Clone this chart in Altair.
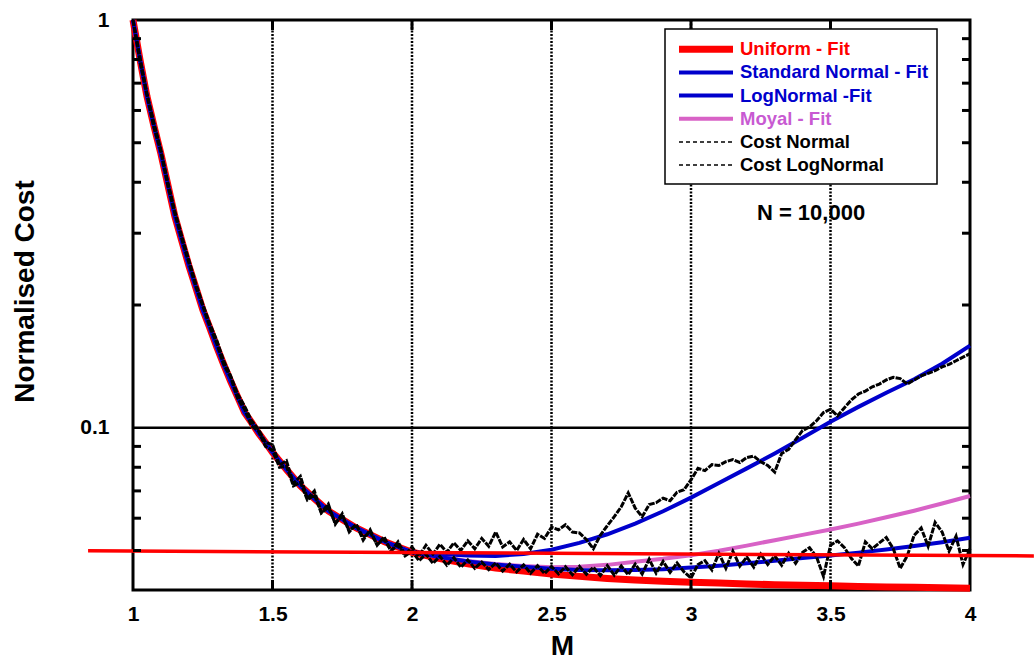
import altair as alt
import pandas as pd

# ---------------- data ----------------
# fitted curves: common decay for M <= 2, then separate tails
fit_m_head = [1.0, 1.025, 1.05, 1.075, 1.1, 1.125, 1.15, 1.175, 1.2, 1.225, 1.25, 1.275,
              1.3, 1.325, 1.35, 1.375, 1.4, 1.425, 1.45, 1.475, 1.5, 1.55, 1.6, 1.65,
              1.7, 1.75, 1.8, 1.85, 1.9, 1.95, 2.0]
fit_c_head = [1.0, 0.80, 0.65, 0.55, 0.47, 0.394, 0.33, 0.287, 0.25, 0.221, 0.195, 0.176,
              0.158, 0.143, 0.13, 0.119, 0.109, 0.103, 0.097, 0.092, 0.087, 0.079, 0.072, 0.067,
              0.0625, 0.0596, 0.0568, 0.0547, 0.0526, 0.051, 0.0495]
fit_m_tail = [2.1, 2.2, 2.3, 2.4, 2.5, 2.6, 2.7, 2.8, 2.9, 3.0,
              3.1, 3.2, 3.3, 3.4, 3.5, 3.6, 3.7, 3.8, 3.9, 4.0]
uniform_tail = [0.0478, 0.0464, 0.0453, 0.0445, 0.0438, 0.0432, 0.0427, 0.0423, 0.042, 0.0418,
                0.0416, 0.0414, 0.0412, 0.0411, 0.041, 0.0408, 0.0407, 0.0406, 0.0405, 0.0404]
std_normal_tail = [0.049, 0.0486, 0.0485, 0.049, 0.0502, 0.0522, 0.0548, 0.0582, 0.0624, 0.0674,
                   0.0732, 0.0795, 0.0865, 0.0945, 0.1035, 0.1125, 0.1218, 0.1315, 0.1435, 0.159]
lognormal_tail = [0.0482, 0.047, 0.0462, 0.0456, 0.0451, 0.0448, 0.0447, 0.0448, 0.045, 0.0454,
                  0.0459, 0.0465, 0.0472, 0.0479, 0.0486, 0.0494, 0.0503, 0.0513, 0.0524, 0.0537]
moyal_tail = [0.0482, 0.0471, 0.0463, 0.0458, 0.0455, 0.0456, 0.0461, 0.0469, 0.0477, 0.0487,
              0.0499, 0.0514, 0.053, 0.0546, 0.0563, 0.0582, 0.0603, 0.0626, 0.0652, 0.068]

# simulated costs, sampled every 0.025 in M
cost_m = [round(1 + 0.025 * i, 3) for i in range(121)]
cost_normal = [
    1.0, 0.81, 0.66, 0.56, 0.48, 0.40, 0.34, 0.295, 0.258, 0.226,
    0.201, 0.18, 0.164, 0.146, 0.134, 0.121, 0.113, 0.104, 0.099, 0.092,
    0.091, 0.081, 0.083, 0.073, 0.076, 0.067, 0.070, 0.062, 0.065, 0.058,
    0.0615, 0.0555, 0.058, 0.053, 0.0562, 0.0515, 0.054, 0.0498, 0.0525, 0.0488,
    0.051, 0.0485, 0.0515, 0.049, 0.0518, 0.0495, 0.0522, 0.05, 0.0528, 0.0505,
    0.0535, 0.0512, 0.0555, 0.051, 0.0525, 0.05, 0.0532, 0.0505, 0.0548, 0.0535,
    0.057, 0.0562, 0.0578, 0.0555, 0.0552, 0.0532, 0.0505, 0.0545, 0.0575, 0.0605,
    0.064, 0.0692, 0.0635, 0.0605, 0.0648, 0.0655, 0.0672, 0.0662, 0.0695, 0.0705,
    0.0745, 0.0795, 0.0785, 0.0812, 0.0808, 0.0826, 0.0835, 0.0822, 0.0845, 0.0852,
    0.0825, 0.0808, 0.0778, 0.0865, 0.0885, 0.0935, 0.0985, 0.1005, 0.104, 0.109,
    0.111, 0.107, 0.112, 0.117, 0.121, 0.123, 0.126, 0.128, 0.131, 0.133,
    0.132, 0.128, 0.131, 0.134, 0.136, 0.138, 0.141, 0.143, 0.146, 0.149,
    0.152]
cost_lognormal = [
    1.0, 0.79, 0.655, 0.545, 0.475, 0.392, 0.335, 0.29, 0.254, 0.222,
    0.199, 0.177, 0.161, 0.143, 0.133, 0.118, 0.111, 0.101, 0.098, 0.09,
    0.088, 0.08, 0.0805, 0.072, 0.0735, 0.0665, 0.0685, 0.0618, 0.0638, 0.0585,
    0.0605, 0.056, 0.0578, 0.0538, 0.0555, 0.0518, 0.0532, 0.05, 0.0515, 0.0485,
    0.0498, 0.0472, 0.049, 0.0465, 0.0484, 0.046, 0.048, 0.0455, 0.0474, 0.0452,
    0.0468, 0.0449, 0.0466, 0.0445, 0.0463, 0.0443, 0.0461, 0.044, 0.0459, 0.0439,
    0.0457, 0.0438, 0.0456, 0.0436, 0.0457, 0.0437, 0.0455, 0.0434, 0.0459, 0.0435,
    0.0458, 0.0436, 0.0463, 0.0438, 0.0476, 0.044, 0.047, 0.0442, 0.0466, 0.0443,
    0.0428, 0.0462, 0.0472, 0.0448, 0.0492, 0.0452, 0.0498, 0.0458, 0.0482, 0.0455,
    0.049, 0.0462, 0.0485, 0.046, 0.0492, 0.0465, 0.0495, 0.0508, 0.0482, 0.0432,
    0.0515, 0.0528, 0.0508, 0.0478, 0.0458, 0.0525, 0.0505, 0.0522, 0.0538, 0.0505,
    0.0452, 0.0485, 0.0545, 0.0568, 0.0512, 0.0586, 0.0555, 0.0498, 0.0542, 0.0462,
    0.0505]

# straight red reference line (runs past both plot edges)
ref_m = [0.839, 4.229]
ref_c = [0.0499, 0.0485]

x_ticks = [1, 1.5, 2, 2.5, 3, 3.5, 4]
x_grid = [1.5, 2, 2.5, 3, 3.5]
y_major = [0.1, 1]
y_minor = [0.05, 0.06, 0.07, 0.08, 0.09, 0.2, 0.3, 0.4, 0.5, 0.6, 0.7, 0.8, 0.9]

legend_labels = ["Uniform - Fit", "Standard Normal - Fit", "LogNormal -Fit",
                 "Moyal - Fit", "Cost Normal", "Cost LogNormal"]

# ---------------- styling ----------------
FONT = "Liberation Sans"
W, H = 837, 570
RED = "#ff0000"
BLUE = "#0000cc"
PINK = "#d862c6"
PINK_TXT = "#c85ad2"

def frame(m, c):
    return pd.DataFrame({"M": m, "C": c})

xs = alt.Scale(domain=[1, 4], nice=False, zero=False)
ys = alt.Scale(type="log", domain=[0.04, 1], nice=False)
x_axis = alt.Axis(values=x_ticks, format="~g", title="M", grid=False, domain=False,
                  ticks=False, tickSize=0, labelFontSize=21, labelFontWeight="bold",
                  labelPadding=13, labelColor="black", labelFlush=False, labelOverlap=False,
                  titleFontSize=28, titleFontWeight="bold", titleColor="black",
                  titleX=429, titleY=64, titleBaseline="alphabetic", titleAlign="center")
y_axis = alt.Axis(values=y_major, format="~g", title="Normalised Cost", grid=False, domain=False,
                  ticks=False, tickSize=0, labelFontSize=21, labelFontWeight="bold",
                  labelPadding=24, labelColor="black", labelFlush=False, labelOverlap=False,
                  titleFontSize=28, titleFontWeight="bold", titleColor="black",
                  titleX=-100, titleY=271, titleAngle=270, titleBaseline="alphabetic",
                  titleAlign="center")
X = alt.X("M:Q", scale=xs, axis=x_axis)
Y = alt.Y("C:Q", scale=ys, axis=y_axis)

layers = []

# grid
layers.append(alt.Chart(pd.DataFrame({"M": x_grid})).mark_rule(
    color="black", strokeWidth=2.5, strokeDash=[2, 1.5]).encode(x=X))
layers.append(alt.Chart(pd.DataFrame({"C": [0.1]})).mark_rule(
    color="black", strokeWidth=2.5).encode(y=Y))

# fitted curves
fit_m = fit_m_head + fit_m_tail
layers.append(alt.Chart(frame(fit_m, fit_c_head + uniform_tail)).mark_line(
    color=RED, strokeWidth=7).encode(x=X, y=Y))
layers.append(alt.Chart(frame(fit_m, fit_c_head + moyal_tail)).mark_line(
    color=PINK, strokeWidth=4).encode(x=X, y=Y))
layers.append(alt.Chart(frame(fit_m, fit_c_head + lognormal_tail)).mark_line(
    color=BLUE, strokeWidth=4).encode(x=X, y=Y))
layers.append(alt.Chart(frame(fit_m, fit_c_head + std_normal_tail)).mark_line(
    color=BLUE, strokeWidth=4).encode(x=X, y=Y))

# simulated costs
layers.append(alt.Chart(frame(cost_m, cost_normal)).mark_line(
    color="black", strokeWidth=3, strokeDash=[6, 1.2]).encode(x=X, y=Y))
layers.append(alt.Chart(frame(cost_m, cost_lognormal)).mark_line(
    color="black", strokeWidth=3, strokeDash=[6, 1.2]).encode(x=X, y=Y))

# red reference line
layers.append(alt.Chart(frame(ref_m, ref_c)).mark_line(
    color=RED, strokeWidth=3.5).encode(x=X, y=Y))

# inward ticks on all four sides
xt = pd.DataFrame({"M": x_grid})
layers.append(alt.Chart(xt).mark_rule(color="black", strokeWidth=3).encode(
    x=X, y=alt.value(H), y2=alt.value(H - 10)))
layers.append(alt.Chart(xt).mark_rule(color="black", strokeWidth=3).encode(
    x=X, y=alt.value(0), y2=alt.value(10)))
yt = pd.DataFrame({"C": y_minor})
layers.append(alt.Chart(yt).mark_rule(color="black", strokeWidth=3).encode(
    y=Y, x=alt.value(0), x2=alt.value(8)))
layers.append(alt.Chart(yt).mark_rule(color="black", strokeWidth=3).encode(
    y=Y, x=alt.value(W), x2=alt.value(W - 8)))

# annotation
one = alt.Data(values=[{}])
layers.append(alt.Chart(one).mark_text(
    text="N = 10,000", font=FONT, fontSize=22, fontWeight="bold", color="black",
    align="center", baseline="middle").encode(x=alt.value(678), y=alt.value(193)))

# legend (drawn by hand)
layers.append(alt.Chart(one).mark_rect(
    fill="white", stroke="black", strokeWidth=1.5).encode(
    x=alt.value(532), x2=alt.value(804), y=alt.value(9), y2=alt.value(164)))
leg_styles = [
    (RED, 7, None, RED),
    (BLUE, 4, None, BLUE),
    (BLUE, 4, None, BLUE),
    (PINK, 4, None, PINK_TXT),
    ("black", 1.5, [4, 3], "black"),
    ("black", 1.5, [4, 3], "black"),
]
for i, (lab, (col, sw, dash, tcol)) in enumerate(zip(legend_labels, leg_styles)):
    ypos = 29.3 + 23.15 * i
    kw = dict(color=col, strokeWidth=sw)
    if dash:
        kw["strokeDash"] = dash
    layers.append(alt.Chart(one).mark_rule(**kw).encode(
        x=alt.value(546), x2=alt.value(600), y=alt.value(ypos)))
    layers.append(alt.Chart(one).mark_text(
        text=lab, font=FONT, fontSize=18.5, fontWeight="bold", color=tcol,
        align="left", baseline="middle").encode(x=alt.value(607), y=alt.value(ypos)))

chart = alt.layer(*layers).properties(
    width=W, height=H,
    autosize=alt.AutoSizeParams(type="none"),
    padding={"left": 133, "top": 20, "right": 64, "bottom": 72},
).configure(font=FONT).configure_view(stroke="black", strokeWidth=3)

chart.save("out.html", embed_options={"renderer": "svg", "actions": False})
